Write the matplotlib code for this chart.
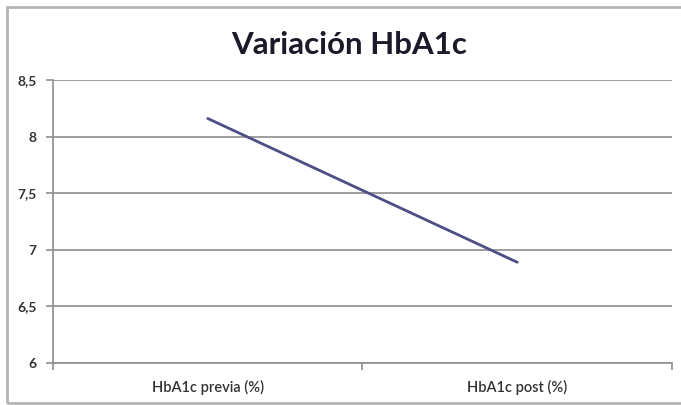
import matplotlib

matplotlib.use("Agg")
import matplotlib.pyplot as plt
from matplotlib.patches import Rectangle
from matplotlib.ticker import FuncFormatter

categories = ["HbA1c previa (%)", "HbA1c post (%)"]
hba1c = [8.16, 6.89]
yticks = [6, 6.5, 7, 7.5, 8, 8.5]

plt.rcParams["font.family"] = ["Lato", "DejaVu Sans"]

W, H = 681, 405
fig = plt.figure(figsize=(W / 100, H / 100), dpi=100)
ax = fig.add_axes([53 / W, 1 - 363 / H, (672 - 53) / W, (363 - 80) / H])

grid_c = "#8e8e8e"
x = list(range(len(categories)))
ax.plot(x, hba1c, color="#4e4e86", lw=2.0, solid_capstyle="round", zorder=3)

ax.set_xlim(-0.5, len(categories) - 0.5)
ax.set_ylim(6, 8.5)
ax.set_yticks(yticks)
ax.yaxis.set_major_formatter(FuncFormatter(lambda v, _: f"{v:g}".replace(".", ",")))
ax.grid(axis="y", color=grid_c, lw=1.2)
ax.set_axisbelow(True)

ax.set_xticks([i - 0.5 for i in range(len(categories) + 1)])
ax.set_xticklabels([])
ax.set_xticks(x, minor=True)
ax.set_xticklabels(categories, minor=True)
ax.tick_params(axis="x", which="major", length=5, color=grid_c, width=1.2)
ax.tick_params(axis="x", which="minor", length=0, pad=12, labelsize=10.5, labelcolor="#333333")
ax.tick_params(axis="y", length=5, color=grid_c, width=1.2, labelsize=10, labelcolor="#333333", pad=7)
for lbl in ax.get_yticklabels():
    lbl.set_fontweight("bold")
for lbl in ax.get_xticklabels(minor=True):
    lbl.set_fontweight("semibold")

for s in ["top", "right"]:
    ax.spines[s].set_visible(False)
for s in ["left", "bottom"]:
    ax.spines[s].set_color(grid_c)
    ax.spines[s].set_linewidth(1.2)

fig.text(349 / W, 1 - 45 / H, "Variación HbA1c", ha="center", va="center",
         fontsize=22.5, fontweight="bold", color="#1a1a2a")

fig.patches.append(Rectangle((7 / W, 2 / H), 1.0, 1 - 9 / H, transform=fig.transFigure,
                             fill=False, edgecolor="#b4b4b4", lw=2.0))

fig.savefig("out.png", dpi=100, facecolor="white")
